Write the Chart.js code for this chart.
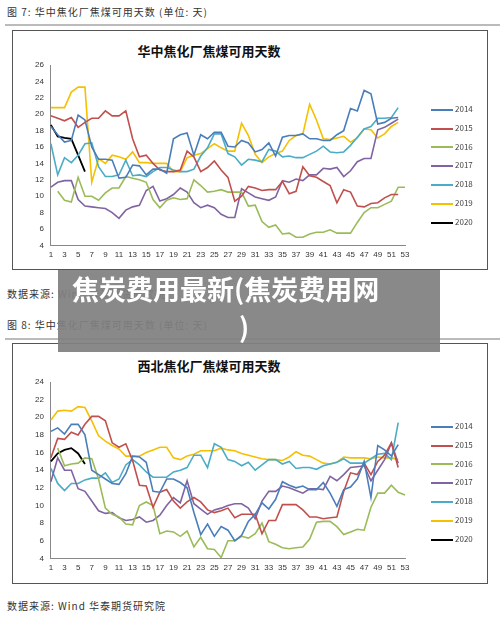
<!DOCTYPE html>
<html><head><meta charset="utf-8">
<script src="https://cdn.jsdelivr.net/npm/chart.js@4"></script>
<style>
body{margin:0;width:500px;height:619px;background:#fff;position:relative;font-family:"Noto Sans CJK SC",sans-serif;overflow:hidden}
.cap{position:absolute;left:7px;font-size:10px;color:#333;letter-spacing:1px}
.rule{position:absolute;left:5px;width:495px;height:2px;background:#bbb}
.box{position:absolute;left:12px;width:474px;border:1px solid #555;background:#fff}
.ttl{position:absolute;left:0;width:392px;text-align:center;font-weight:bold;font-size:13px;color:#111}
canvas{position:absolute;left:0;top:0}
.leg{position:absolute;left:418px;font-size:8px;color:#444}
.leg div{position:absolute;left:0;width:70px;height:12px;line-height:12px;white-space:nowrap}
.leg span{display:inline-block;width:22px;height:2px;vertical-align:middle;margin-right:2px}
#ov{position:absolute;left:58px;top:270px;width:382px;height:82px;background:rgba(128,128,128,0.93);color:#fff;font-weight:bold;font-size:27px;line-height:38px;padding-left:14px;box-sizing:border-box}
</style></head><body>
<div class="cap" style="top:4px">图 7: 华中焦化厂焦煤可用天数 (单位: 天)</div>
<div class="rule" style="top:24px"></div>
<div class="box" style="top:30px;height:238px"><div class="ttl" style="top:10px">华中焦化厂焦煤可用天数</div><canvas id="c1" width="472" height="236"></canvas><div class="leg" id="l1" style="top:0"></div></div>
<div class="cap" style="top:286px">数据来源: Wind 华泰期货研究院</div>
<div class="cap" style="top:317px">图 8: 华中焦化厂焦煤可用天数 (单位: 天)</div>
<div class="rule" style="top:338px"></div>
<div class="box" style="top:343px;height:239px"><div class="ttl" style="top:12px">西北焦化厂焦煤可用天数</div><canvas id="c2" width="472" height="237"></canvas><div class="leg" id="l2" style="top:0"></div></div>
<div class="cap" style="top:598px">数据来源: Wind 华泰期货研究院</div>
<div id="ov">焦炭费用最新(焦炭费用网<br><span style="padding-left:167px">)</span></div>
<script>
const weeks = Array.from({length:53},(_,i)=>String(i+1));
const seriesNames = ['2014','2015','2016','2017','2018','2019','2020'];
const colors = ['#4a7ebb','#c0504d','#9bbb59','#8064a2','#4bacc6','#f5c000','#000000'];

const hz2014=[18.5,17.5,16.6,16.8,19.9,19.3,16,14.5,14.5,14.4,12.2,12.3,13.8,13.7,12.6,13.3,13.3,12.8,17,17.5,17.7,15,17.5,17,17.8,17.8,16.1,16,16.8,16.5,15.4,15.7,16.5,14.9,17.2,17.4,17.4,17.6,17,17,16.8,16.8,17.5,18,20.7,20.4,22.9,22.5,18.8,19,19.5,19.6];
const hz2015=[19.8,19.5,19.2,19.6,18.4,19,19.5,19.5,20.4,19.8,19.8,20.4,17,14.8,15,14,13.2,13,13,13.2,15.5,14.8,13,13.5,14.3,13.2,12.3,9.4,10,11.2,11,10.7,10.8,10.8,11.8,10.3,10.6,13.6,12.5,12.3,11.8,11.3,9.2,10.8,10.5,8.8,8.7,9.1,9.2,9.8,10.2,10.2];
const hz2016=[null,10.6,9.5,9.3,12.3,10,10,9.5,10.4,11,11,12.4,12.2,12,11.7,9.6,8.6,9.5,9.8,9.6,9.7,12,11.3,10.5,10.6,10.8,10.5,10.5,10.5,8.8,8.9,6.9,6.2,6.5,5.4,5.5,5,5,5.4,5.6,5.6,5.9,5.5,5.5,5.5,6.8,8,8.6,8.6,9,9.4,11.1,11.1];
const hz2017=[11.1,11.7,11.9,11.9,9.6,8.8,8.7,8.6,8.5,8,7.3,8.3,8.7,8.9,10.7,11.2,9.4,9.7,10.2,11,10.5,9.2,8.6,8.9,8.6,7.8,7.4,7.4,10.9,10.4,9.9,9.7,9.5,9.9,11.9,11.7,12.1,11.9,12.6,12.6,13.4,13.3,13.5,12.4,13.1,14.2,14.6,14.6,18.1,18.4,18.9,19.4];
const hz2018=[16.4,12.6,14.7,14.1,15,16.4,16.5,13.6,12.4,12.4,12.6,14.4,12.5,12.6,12.4,13,13.5,13.5,13.2,13,13,13.3,14.9,15.9,17.6,17.6,15.2,14.8,13.8,14.5,14.4,14.2,15.7,15.5,14.8,14.9,14.7,14.7,15.1,15.5,16.1,15.4,15.3,15.4,16.2,17.2,18.2,18.5,19.5,19.5,19.6,20.8];
const hz2019=[20.8,20.8,20.8,22.7,23.3,23.3,11.7,14.6,14,15,14.8,14.5,15.4,14.1,14.1,14,14,14,13,13,14.7,15,15.2,15.8,16.4,15.9,15.5,15.5,18.9,17.4,15.1,14.1,14.8,15.2,15.5,16.8,17.4,17.6,21.2,19.3,17,16.9,17.1,17.3,16.6,17.1,18.2,18.1,17.1,17.6,18.5,19];
const hz2020=[18.7,17.3,17.1,17,15,13];

const xb2014=[18.4,18.8,18.1,19.2,19.2,18,14,13.5,13,12.5,12.4,13.6,15.6,15.5,14.9,11.6,11.5,13,13,12.6,12,9.2,6.7,7.9,6.5,7.6,7.2,6,6.6,8.2,9,10.3,9.6,10.7,12.7,12.3,12,12.2,11.8,11.8,12.6,11.4,9.9,11.8,12.1,13,15,10.9,16.8,16.3,15.6,16.9];
const xb2015=[15.4,17.6,17.5,18.3,18,19.2,20.1,20.1,19.6,17.1,16.6,17,15.1,12.3,12.2,9.8,11.5,11.8,10.5,9.7,10.4,10.9,10.4,9.5,9.2,9.4,9.7,8.6,9,9,9,6.8,8.3,8.3,10.1,10.1,10.1,9.5,8.7,8.7,8.5,8.6,8.7,11.6,13.7,13.5,14.8,13.5,15,15.7,17.1,14.3];
const xb2016=[null,16.5,14.5,14.7,14.8,15.4,15.3,13,9.7,9,8.7,7.9,7.8,10,10.4,10,6.8,7.1,7,6.5,7.1,5.3,6.4,5.1,5,4.1,6,6,6.5,6.3,6.8,8,5.9,5.6,5.2,5.1,5.2,5.3,6.2,8.1,8.2,8.2,7.6,6.7,7,7.3,7.2,9.8,11.4,11.4,12.3,11.5,11.2];
const xb2017=[12.7,15.4,14,14,11.9,11.6,10.5,9.4,9.1,9.2,8.6,8.3,8.4,8.7,8.1,8.3,8.9,10,10.9,10.3,12.8,10.2,9.6,9,9.5,9.7,10,10.2,10.2,9.7,8.5,10.5,11.6,11.6,12.2,12,11.7,11.4,11.9,11.9,11.8,13.3,12.8,13.5,14.3,14.4,14.5,12.8,14,15.2,17.1,14.8];
const xb2018=[14.2,12.5,11.7,12.5,12.5,12.9,13.1,13.1,13.7,12.6,13,14.6,15.2,14.6,13.8,13.2,13.2,13.2,13.8,14,14.3,15.7,15.7,14.3,17,16.6,15.2,15,14.5,14.9,14,14.6,15.2,15.2,14.7,15,14.2,14.3,14.3,14.1,14.5,14.7,14.9,15.3,14.8,14.8,14.8,15.3,15.8,15.9,15.2,19.4];
const xb2019=[19.7,20.7,20.8,20.7,21.2,21.1,19.6,17.9,17.3,16.8,16.4,15.6,15.6,15.6,16,16.3,16.6,16.6,15.4,15.2,15.6,15.8,16.2,16.2,16.2,16.5,16.3,16.2,15.9,15.7,15.5,15.3,15.2,15.2,15.1,15.5,16.1,15.7,15.6,15.2,14.8,14.7,14.9,15.5,15.4,15.4,15.4,15.3,15.5,15.4,15.4,15.2];
const xb2020=[15,15.9,16.3,16.5,15.9,14.7];

function make(id,legId,data,yMin,yMax,padTop,padBottom,legTop,legGap){
  const ds = data.map((d,i)=>({label:seriesNames[i],data:d,borderColor:colors[i],borderWidth:i===6?1.8:1.6,pointRadius:0,tension:0,fill:false,spanGaps:false}));
  new Chart(document.getElementById(id),{type:'line',data:{labels:weeks,datasets:ds},
   options:{responsive:false,animation:false,
    layout:{padding:{top:padTop,right:80,left:18,bottom:padBottom}},
    plugins:{legend:{display:false},tooltip:{enabled:false}},
    scales:{
      x:{grid:{display:false,drawTicks:true,tickLength:3},border:{color:'#888'},
         ticks:{autoSkip:false,maxRotation:0,font:{size:8},color:'#333',padding:2,callback:(v,i)=>i%2===0?weeks[i]:''}},
      y:{min:yMin,max:yMax,grid:{display:false,tickLength:3},border:{color:'#888'},
         ticks:{stepSize:2,font:{size:8},color:'#333',padding:4}}
    }}});
  const leg=document.getElementById(legId);
  seriesNames.forEach((n,i)=>{const d=document.createElement('div');d.style.top=(legTop+i*legGap)+'px';
    d.innerHTML='<span style="background:'+colors[i]+'"></span>'+n;leg.appendChild(d);});
}
make('c1','l1',[hz2014,hz2015,hz2016,hz2017,hz2018,hz2019,hz2020],4,26,34,5,72,18.8);
make('c2','l2',[xb2014,xb2015,xb2016,xb2017,xb2018,xb2019,xb2020],4,24,38,6,76,18.8);
</script>
</body></html>
